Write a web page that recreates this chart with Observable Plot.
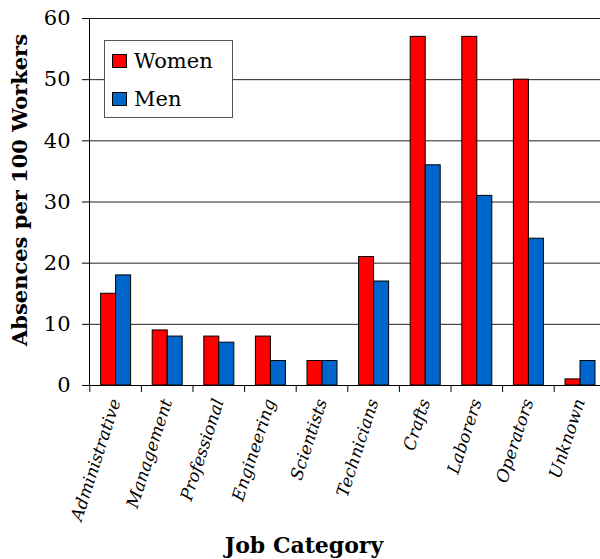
<!DOCTYPE html>
<html>
<head>
<meta charset="utf-8">
<script src="https://cdn.jsdelivr.net/npm/d3@7"></script>
<script src="https://cdn.jsdelivr.net/npm/@observablehq/plot@0.6"></script>
<style>
  body { margin: 0; background: #fff; }
  #wrap { position: relative; width: 600px; height: 559px; overflow: hidden; background: #fff; }
  .legend { position: absolute; left: 104px; top: 40px; width: 129px; height: 78px; border: 1px solid #555;
            background: #fff; box-sizing: border-box; font-family: "DejaVu Serif", serif; font-size: 21px; color: #000; }
  .legend .item { position: absolute; left: 7px; display: flex; align-items: center; }
  .legend .sw { width: 15px; height: 14px; border: 1px solid #000; box-sizing: border-box; margin-right: 7px; }
</style>
</head>
<body>
<div id="wrap"></div>
<script>
const categories = ["Administrative","Management","Professional","Engineering","Scientists","Technicians","Crafts","Laborers","Operators","Unknown"];
const women = [15, 9, 8, 8, 4, 21, 57, 57, 50, 1];
const men = [18, 8, 7, 4, 4, 17, 36, 31, 24, 4];
const yTicks = [0, 10, 20, 30, 40, 50, 60];
const seriesNames = ["Women", "Men"];
const seriesColors = ["#ff0000", "#0066cc"];

const womenData = categories.map((c, i) => ({category: c, value: women[i]}));
const menData = categories.map((c, i) => ({category: c, value: men[i]}));

const x0 = 89.3, x1 = 605.3;
const bw = (x1 - x0) / categories.length;

const chart = Plot.plot({
  width: 600,
  height: 559,
  marginLeft: 89,
  marginRight: 0,
  marginTop: 18,
  marginBottom: 174,
  style: {fontFamily: "DejaVu Serif, serif", background: "white", color: "black"},
  x: {domain: categories, range: [x0, x1], padding: 0, round: false},
  y: {domain: [0, 60]},
  marks: [
    Plot.gridY(yTicks, {stroke: "#222", strokeOpacity: 1, strokeWidth: 1}),
    Plot.barY(womenData, {x: "category", y: "value", fill: seriesColors[0], stroke: "#000", strokeWidth: 1, insetLeft: 11.3, insetRight: 25.3}),
    Plot.barY(menData, {x: "category", y: "value", fill: seriesColors[1], stroke: "#000", strokeWidth: 1, insetLeft: 26.3, insetRight: 10.3}),
    Plot.ruleY([0], {stroke: "#000"}),
    Plot.frame({anchor: "left", stroke: "#000"}),
    Plot.axisY(yTicks, {tickSize: 7, tickPadding: 12, fontSize: 21, label: null, stroke: "#000"}),
    Plot.axisX({tickSize: 7, tickFormat: () => "", dx: -bw / 2, label: null, stroke: "#000"}),
    Plot.axisX({tickSize: 0, tickPadding: 14, tickRotate: -72, fontSize: 17, fontStyle: "italic", label: null}),
    Plot.text(["Absences per 100 Workers"], {frameAnchor: "left", textAnchor: "middle", rotate: -90, dx: -69, dy: -12, fontSize: 21, fontWeight: "bold", fill: "#000"}),
    Plot.text(["Job Category"], {frameAnchor: "bottom", textAnchor: "middle", dx: -41, dy: 167, lineAnchor: "bottom", fontSize: 22, fontWeight: "bold", fill: "#000"})
  ]
});

const wrap = document.getElementById("wrap");
wrap.appendChild(chart);

const legend = document.createElement("div");
legend.className = "legend";
seriesNames.forEach((name, i) => {
  const item = document.createElement("div");
  item.className = "item";
  item.style.top = (i === 0 ? 8 : 46) + "px";
  const sw = document.createElement("div");
  sw.className = "sw";
  sw.style.background = seriesColors[i];
  const t = document.createElement("span");
  t.textContent = name;
  item.appendChild(sw);
  item.appendChild(t);
  legend.appendChild(item);
});
wrap.appendChild(legend);
</script>
</body>
</html>
